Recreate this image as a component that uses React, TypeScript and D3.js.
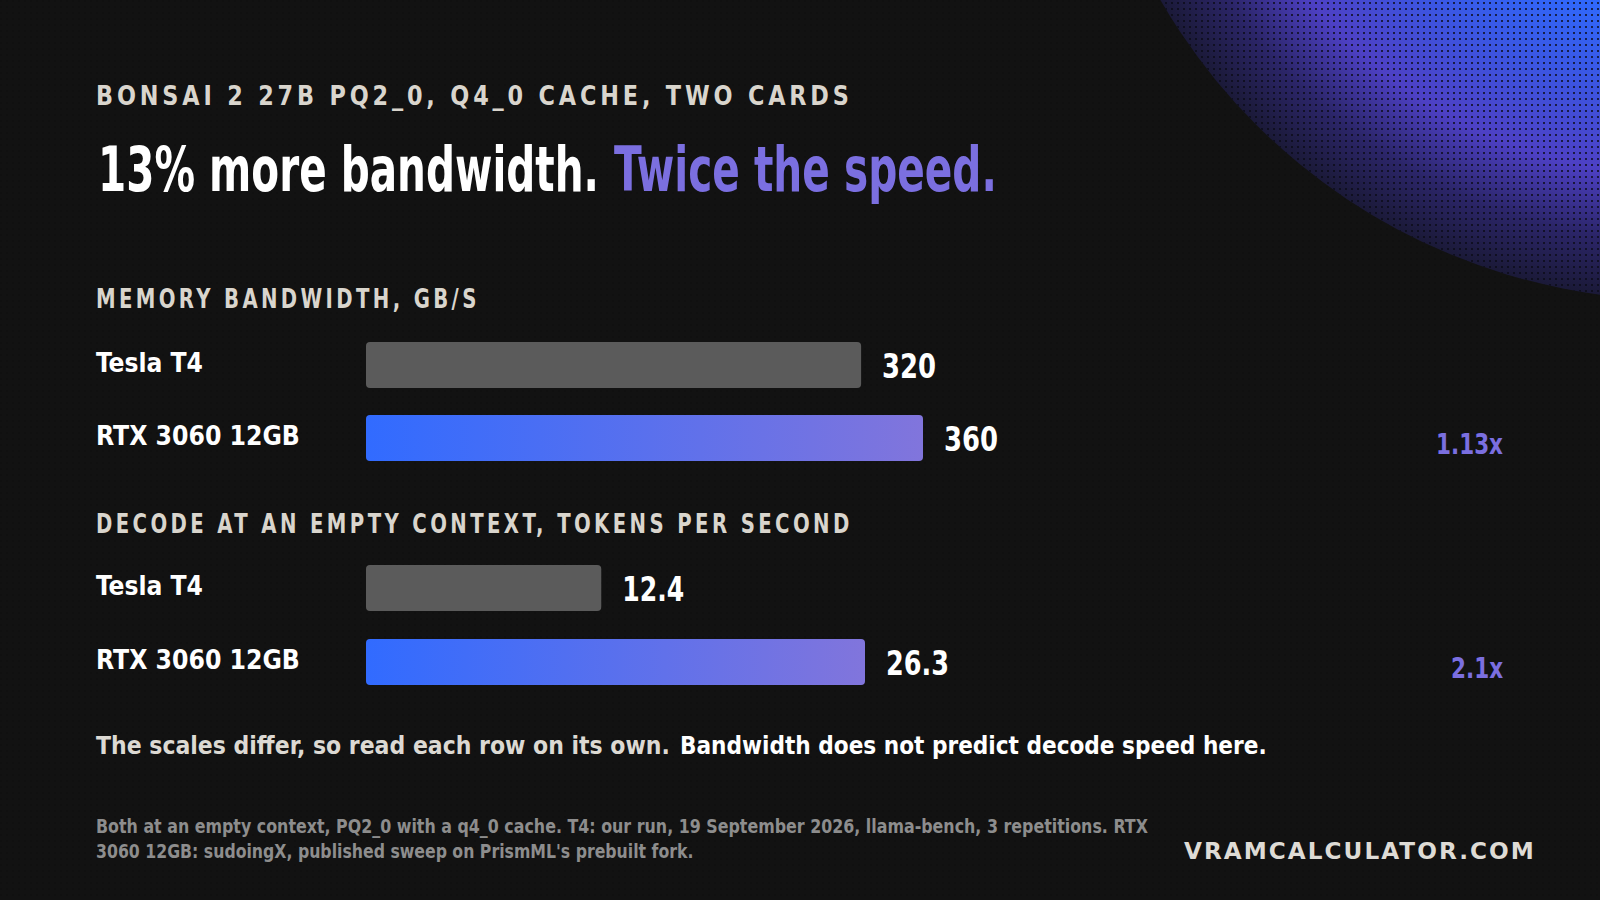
import React, { useLayoutEffect, useRef, useState } from "react";
import * as d3 from "d3";

const kicker = "BONSAI 2 27B PQ2_0, Q4_0 CACHE, TWO CARDS";
const headlineA = "13% more bandwidth.";
const headlineB = "Twice the speed.";
const sectionTitles = ["MEMORY BANDWIDTH, GB/S", "DECODE AT AN EMPTY CONTEXT, TOKENS PER SECOND"];
const cards = ["Tesla T4", "RTX 3060 12GB"];
const bandwidthValues = [320, 360];
const decodeValues = [12.4, 26.3];
const ratioLabels = ["1.13x", "2.1x"];
const noteA = "The scales differ, so read each row on its own.";
const noteB = "Bandwidth does not predict decode speed here.";
const footLines = [
  "Both at an empty context, PQ2_0 with a q4_0 cache. T4: our run, 19 September 2026, llama-bench, 3 repetitions. RTX",
  "3060 12GB: sudoingX, published sweep on PrismML's prebuilt fork.",
];
const brand = "VRAMCALCULATOR.COM";

const COND = "'Liberation Sans Narrow','DejaVu Sans Condensed','Arial Narrow',sans-serif";

type FitProps = {
  x: number; y: number; width: number; children: string; fill: string;
  size: number; family?: string; spacing?: number; anchor?: "start" | "end";
};

function FitText({ x, y, width, children, fill, size, family = COND, spacing = 0, anchor = "start" }: FitProps) {
  const ref = useRef<SVGTextElement>(null);
  const [sx, setSx] = useState(1);
  useLayoutEffect(() => {
    if (ref.current) {
      const len = ref.current.getComputedTextLength();
      if (len > 0) setSx(width / len);
    }
  }, [width, children, size]);
  return (
    <g transform={`translate(${x},${y}) scale(${sx},1)`}>
      <text ref={ref} x={0} y={0} fill={fill} fontFamily={family} fontWeight={700} fontSize={size}
        letterSpacing={spacing} textAnchor={anchor}>{children}</text>
    </g>
  );
}

export default function App() {
  const W = 1600, H = 900;
  const x0 = 366;
  const sections = [
    { title: sectionTitles[0], titleY: 308, titleW: 384, values: bandwidthValues, fmt: (v: number) => String(v),
      x: d3.scaleLinear().domain([0, 360]).range([x0, 923]),
      y: d3.scaleBand<string>().domain(cards).range([342, 461]).paddingInner(27 / 73),
      ratio: ratioLabels[0], ratioW: 67, valueW: [54, 54] },
    { title: sectionTitles[1], titleY: 533, titleW: 757, values: decodeValues, fmt: (v: number) => v.toFixed(1),
      x: d3.scaleLinear().domain([0, 26.3]).range([x0, 865]),
      y: d3.scaleBand<string>().domain(cards).range([565, 685]).paddingInner(28 / 74),
      ratio: ratioLabels[1], ratioW: 52, valueW: [62, 63] },
  ];
  const labelW: Record<string, number> = { "Tesla T4": 107, "RTX 3060 12GB": 204 };

  return (
    <svg width={W} height={H} viewBox={`0 0 ${W} ${H}`}
      style={{ position: "absolute", left: 0, top: 0, display: "block" }}>
      <defs>
        <radialGradient id="orb" gradientUnits="userSpaceOnUse" cx={1680} cy={-300} r={602}>
          <stop offset="0" stopColor="#2d6dff" />
          <stop offset="0.5" stopColor="#2e6bff" />
          <stop offset="0.64" stopColor="#3a57e4" />
          <stop offset="0.79" stopColor="#4d40c4" />
          <stop offset="0.9" stopColor="#2b2568" />
          <stop offset="1" stopColor="#1a1936" />
        </radialGradient>
        <clipPath id="orbClip">
          <circle cx={1680} cy={-300} r={600} />
        </clipPath>
        <pattern id="dots" width={6} height={6} patternUnits="userSpaceOnUse" x={1} y={2}>
          <rect x={0} y={0} width={2} height={2} fill="#0b0b16" opacity={0.75} />
        </pattern>
        <pattern id="bgdots" width={6} height={6} patternUnits="userSpaceOnUse">
          <rect x={0} y={0} width={2} height={2} fill="#000" opacity={0.12} />
        </pattern>
        <linearGradient id="barGrad" x1="0" y1="0" x2="1" y2="0">
          <stop offset="0" stopColor="#316bff" />
          <stop offset="1" stopColor="#8175dc" />
        </linearGradient>
      </defs>

      <rect width={W} height={H} fill="#121212" />
      <rect width={W} height={H} fill="url(#bgdots)" />
      <g clipPath="url(#orbClip)">
        <rect x={1100} y={0} width={500} height={320} fill="url(#orb)" />
        <rect x={1100} y={0} width={500} height={320} fill="url(#dots)" />
      </g>

      <FitText x={96} y={105} width={757} fill="#d9d5cd" size={26} spacing={4}>{kicker}</FitText>

      <FitText x={98} y={191} width={501} fill="#ffffff" size={62}>{headlineA}</FitText>
      <FitText x={614} y={191} width={383} fill="#7b6fe0" size={62}>{headlineB}</FitText>

      {sections.map((s, si) => (
        <g key={si}>
          <FitText x={96} y={s.titleY} width={s.titleW} fill="#d9d5cd" size={26} spacing={4}>{s.title}</FitText>
          {cards.map((c, i) => {
            const y = s.y(c)!;
            const bw = s.y.bandwidth();
            const xe = s.x(s.values[i]);
            const cy = y + bw / 2;
            return (
              <g key={c}>
                <FitText x={96} y={cy + 7} width={labelW[c]} fill="#ffffff" size={26}>{c}</FitText>
                <rect x={x0} y={y} width={xe - x0} height={bw} rx={4}
                  fill={i === 0 ? "#5b5b5b" : "url(#barGrad)"} />
                <FitText x={xe + 21} y={cy + 13} width={s.valueW[i]} fill="#ffffff" size={34}>
                  {s.fmt(s.values[i])}
                </FitText>
              </g>
            );
          })}
          <FitText x={1503} y={s.y(cards[1])! + s.y.bandwidth() / 2 + 16} width={s.ratioW} fill="#7b6fe0"
            size={28} anchor="end">{s.ratio}</FitText>
        </g>
      ))}

      <FitText x={96} y={754} width={574} fill="#dcd9d3" size={25}>{noteA}</FitText>
      <FitText x={680} y={754} width={587} fill="#ffffff" size={25}>{noteB}</FitText>

      <FitText x={96} y={833} width={1052} fill="#8d8d8d" size={19}>{footLines[0]}</FitText>
      <FitText x={96} y={858} width={598} fill="#8d8d8d" size={19}>{footLines[1]}</FitText>

      <FitText x={1184} y={859} width={352} fill="#dedbd5" size={23} spacing={2}
        family="'DejaVu Sans',sans-serif">{brand}</FitText>
    </svg>
  );
}
